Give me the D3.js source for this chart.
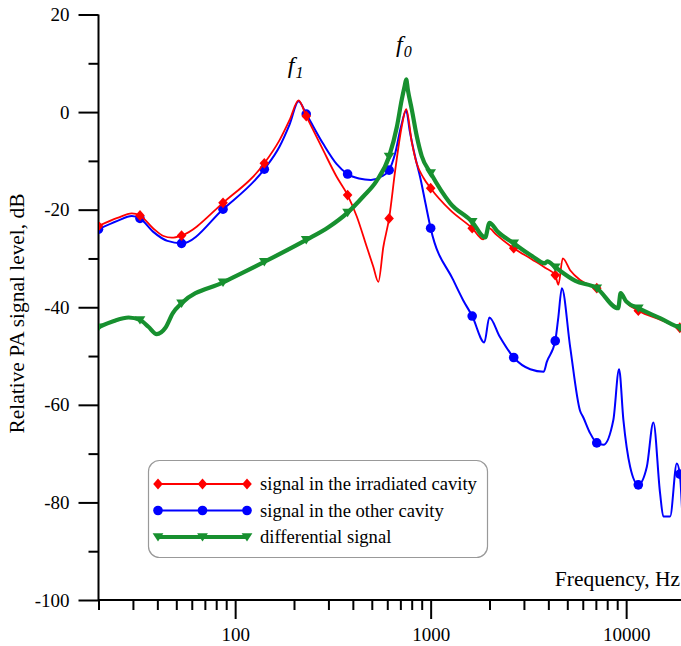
<!DOCTYPE html>
<html><head><meta charset="utf-8">
<script src="https://cdn.jsdelivr.net/npm/d3@7"></script>
<style>
html,body{margin:0;padding:0;background:#fff;}
svg{display:block;font-family:"Liberation Serif","Times New Roman",serif;}
svg text{font-family:"Liberation Serif","Times New Roman",serif;}
</style></head>
<body>
<svg id="chart" width="681" height="646"></svg>
<script>
// ---- data: [frequency Hz, level dB, marker flag] ----
const seriesNames = ["signal in the irradiated cavity", "signal in the other cavity", "differential signal"];
const redSeries = [
 [20,-23.35,1],[25,-21.7,0],[29.6,-20.75,0],[32.6,-21.2,1],[38,-23.8,0],[43,-25.4,0],[47.4,-25.75,0],[53.2,-25.3,1],
 [86.7,-18.6,1],[141,-10.5,1],[169,-5.7,0],[190,-1.6,0],[211,2.4,0],[231,-0.8,1],[282,-7.8,0],[330,-13.2,0],
 [376,-17.0,1],[419,-21.4,0],[471,-27.6,0],[509,-31.7,0],[540,-34.8,0],[573,-27.6,0],[613,-21.8,1],[659,-11.9,0],
 [711,-3.0,0],[750,0.6,0],[802,-6.3,0],[848,-10.5,0],[920,-13.5,0],[1000,-15.6,1],[1260,-20.1,0],[1631,-23.8,1],
 [1860,-26.1,0],[1990,-23.8,0],[2150,-25.0,0],[2660,-27.9,1],[3300,-30.2,0],[3850,-31.9,0],[4338,-33.4,1],
 [4500,-35.4,0],[4740,-30.0,0],[5170,-32.4,0],[5810,-34.4,0],[7075,-36.1,1],[9100,-40.0,0],[9370,-37.5,0],
 [10000,-39.0,0],[11540,-40.7,1],[15000,-42.6,0],[18820,-44.2,1],[20000,-44.6,0]
];
const blueSeries = [
 [20,-24.0,1],[25,-22.3,0],[29.6,-21.3,0],[32.6,-21.8,1],[38,-24.5,0],[45,-26.4,0],[53.2,-26.9,1],[86.7,-19.9,1],
 [141,-11.7,1],[169,-7.0,0],[190,-2.5,0],[211,2.2,0],[231,-0.4,1],[282,-6.5,0],[330,-10.6,0],[376,-12.7,1],
 [430,-13.6,0],[495,-13.9,0],[560,-13.2,0],[613,-11.9,1],[659,-8.4,0],[705,-3.0,0],[750,0.3,0],[782,-3.9,0],
 [830,-8.9,0],[889,-13.8,0],[942,-18.8,0],[1000,-23.8,1],[1304,-34.4,0],[1464,-38.5,0],[1631,-41.8,1],
 [1883,-47.2,0],[1996,-42.1,0],[2254,-46.0,0],[2660,-50.3,1],[3232,-52.7,0],[3790,-53.2,0],[3928,-51.2,0],
 [4338,-46.9,1],[4500,-42.0,0],[4690,-36.1,0],[5170,-48.1,0],[5810,-61.2,0],[6040,-62.6,0],[6540,-65.8,0],
 [7075,-67.8,1],[7650,-68.2,0],[8600,-63.1,0],[9200,-52.7,0],[9680,-63.1,0],[10480,-72.7,0],[11540,-76.4,1],
 [12760,-72.7,0],[13780,-63.6,0],[14910,-78.1,0],[15500,-82.9,0],[16780,-82.9,0],[18160,-72.0,0],[18820,-74.2,1],[19400,-83.0,0]
];
const greenSeries = [
 [20,-44.1,1],[24,-42.8,0],[28.5,-42.1,0],[32.6,-42.6,1],[36,-44.0,0],[39.7,-45.5,0],[44,-44.2,0],[48,-41.2,0],
 [53.2,-39.2,1],[86.7,-34.9,1],[141,-30.7,1],[231,-26.2,1],[300,-23.6,0],[376,-20.6,1],[452,-17.3,0],[527,-14.2,0],
 [613,-9.1,1],[672,-3.0,0],[711,2.5,0],[735,5.2,0],[750,6.7,0],[765,4.5,0],[802,0.4,0],[850,-5.0,0],[900,-9.0,0],
 [1000,-12.5,1],[1260,-18.7,0],[1631,-22.5,1],[1900,-25.7,0],[2000,-22.7,0],[2200,-24.5,0],[2660,-26.9,1],
 [3300,-29.5,0],[3850,-31.0,0],[3950,-30.6,0],[4338,-31.8,1],[5500,-34.6,0],[7075,-36.1,1],[9100,-40.2,0],
 [9370,-37.1,0],[10000,-38.8,0],[11540,-40.2,1],[15000,-42.3,0],[18820,-44.2,1],[20000,-44.6,0]
];
const xMajorTicks = [100, 1000, 10000];
const xMinorTicks = [20,30,40,50,60,70,80,90,200,300,400,500,600,700,800,900,2000,3000,4000,5000,6000,7000,8000,9000];
const yMajorTicks = [-100,-80,-60,-40,-20,0,20];
const yMinorTicks = [-90,-70,-50,-30,-10,10];
const peakLabels = [{sub:"1", f:186, db:8.0}, {sub:"0", f:665, db:12.3}];

// ---- drawing ----
const svg = d3.select("#chart");
const x = d3.scaleLog().domain([20, 20000]).range([98.5, 685]);
const y = d3.scaleLinear().domain([-100, 20]).range([600, 14.5]);
const colors = ["#ff0000", "#0000ff", "#17902f"];
const widths = [1.8, 2, 4.2];
const serif = '"Liberation Serif","Times New Roman",serif';

// axes
const gx = svg.append("g").attr("transform", "translate(0,600)");
gx.call(d3.axisBottom(x).tickValues(xMinorTicks).tickSize(10).tickFormat(""));
const gx2 = svg.append("g").attr("transform", "translate(0,600)");
gx2.call(d3.axisBottom(x).tickValues(xMajorTicks).tickSize(19).tickPadding(9).tickFormat(d3.format("d")));
const gy = svg.append("g").attr("transform", "translate(98.5,0)");
gy.call(d3.axisLeft(y).tickValues(yMinorTicks).tickSize(10).tickFormat(""));
const gy2 = svg.append("g").attr("transform", "translate(98.5,0)");
gy2.call(d3.axisLeft(y).tickValues(yMajorTicks).tickSize(20).tickPadding(9).tickFormat(d => d));
[gx, gx2, gy, gy2].forEach(g => g.attr("font-family", serif).attr("font-size", 19));
svg.selectAll(".domain").remove();
svg.selectAll(".tick line").attr("stroke", "#000").attr("stroke-width", 2);
svg.selectAll(".tick text").style("font-family", serif).attr("font-size", 19).attr("fill", "#000");
svg.append("line").attr("x1", 98.5).attr("x2", 681).attr("y1", 600).attr("y2", 600).attr("stroke", "#000").attr("stroke-width", 2);
svg.append("line").attr("x1", 98.5).attr("x2", 98.5).attr("y1", 14.5).attr("y2", 601).attr("stroke", "#000").attr("stroke-width", 2);

// axis titles
svg.append("text").attr("transform", "translate(24,313.5) rotate(-90)").attr("text-anchor", "middle")
  .attr("font-size", 21.4).text("Relative PA signal level, dB");
svg.append("text").attr("x", 680).attr("y", 586).attr("text-anchor", "end")
  .attr("font-size", 21.5).text("Frequency, Hz");

// series
svg.append("clipPath").attr("id", "plotclip").append("rect")
  .attr("x", 99).attr("y", 0).attr("width", 600).attr("height", 600);
const line = d3.line().x(d => x(d[0])).y(d => y(d[1])).curve(d3.curveMonotoneX);
const allSeries = [redSeries, blueSeries, greenSeries];
const drawOrder = [1, 0, 2];

function marker(g, type, cx, cy, color) {
  if (type === 0) {
    g.append("path").attr("d", `M${cx},${cy-5.4}L${cx+4.8},${cy}L${cx},${cy+5.4}L${cx-4.8},${cy}Z`).attr("fill", color);
  } else if (type === 1) {
    g.append("circle").attr("cx", cx).attr("cy", cy).attr("r", 4.8).attr("fill", color);
  } else {
    g.append("path").attr("d", `M${cx-5.4},${cy-3.8}L${cx+5.4},${cy-3.8}L${cx},${cy+4.6}Z`).attr("fill", color);
  }
}

const plot = svg.append("g").attr("clip-path", "url(#plotclip)");
drawOrder.forEach(i => {
  const g = plot.append("g");
  g.append("path").datum(allSeries[i]).attr("d", line).attr("fill", "none")
    .attr("stroke", colors[i]).attr("stroke-width", widths[i]).attr("stroke-linejoin", "round");
  allSeries[i].filter(d => d[2]).forEach(d => marker(g, i, x(d[0]), y(d[1]), colors[i]));
});

// peak labels
peakLabels.forEach(p => {
  const t = svg.append("text").attr("x", x(p.f)).attr("y", y(p.db)).attr("font-style", "italic").attr("font-size", 24);
  t.append("tspan").text("f");
  t.append("tspan").attr("font-size", 16).attr("dy", 5).attr("dx", 1).text(p.sub);
});

// legend
const lg = svg.append("g");
lg.append("rect").attr("x", 148.5).attr("y", 460.5).attr("width", 339).attr("height", 97).attr("rx", 11)
  .attr("fill", "#fff").attr("stroke", "#999").attr("stroke-width", 1.2);
[0, 1, 2].forEach(i => {
  const ly = 484 + i * 26.5;
  lg.append("line").attr("x1", 158).attr("x2", 247).attr("y1", ly).attr("y2", ly)
    .attr("stroke", colors[i]).attr("stroke-width", widths[i]);
  [158, 202.5, 247].forEach(mx => marker(lg, i, mx, ly, colors[i]));
  lg.append("text").attr("x", 260).attr("y", ly + 6).attr("font-size", 18.6).text(seriesNames[i]);
});
</script>
</body></html>
